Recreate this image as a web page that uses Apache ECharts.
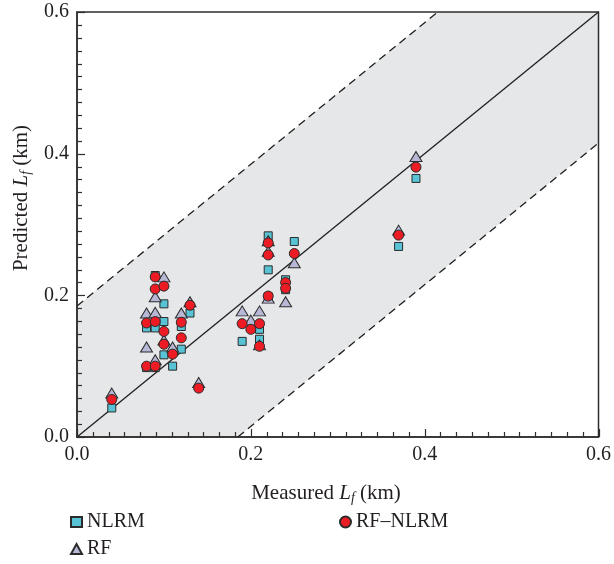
<!DOCTYPE html>
<html>
<head>
<meta charset="utf-8">
<script src="https://cdn.jsdelivr.net/npm/echarts@6/dist/echarts.min.js"></script>
<style>
  html, body { margin: 0; padding: 0; background: #fff; }
  #chart { width: 614px; height: 564px; }
</style>
</head>
<body>
<div id="chart"></div>
<script>
// measured vs predicted Lf (km)
const nlrm = [
  [0.04, 0.041], [0.08, 0.154], [0.08, 0.098], [0.09, 0.228], [0.09, 0.154], [0.09, 0.098],
  [0.10, 0.188], [0.10, 0.163], [0.10, 0.116], [0.11, 0.100], [0.12, 0.156], [0.12, 0.124],
  [0.13, 0.175], [0.19, 0.135], [0.21, 0.152], [0.21, 0.138], [0.22, 0.284], [0.22, 0.236],
  [0.22, 0.198], [0.24, 0.222], [0.24, 0.208], [0.25, 0.276], [0.37, 0.269], [0.39, 0.365]
];
const rf = [
  [0.04, 0.062], [0.08, 0.175], [0.08, 0.127], [0.09, 0.198], [0.09, 0.176], [0.09, 0.109],
  [0.10, 0.226], [0.10, 0.137], [0.11, 0.127], [0.12, 0.175], [0.13, 0.191], [0.14, 0.077],
  [0.19, 0.178], [0.20, 0.165], [0.21, 0.178], [0.21, 0.130], [0.22, 0.277], [0.22, 0.262],
  [0.22, 0.196], [0.24, 0.191], [0.25, 0.246], [0.37, 0.292], [0.39, 0.396]
];
const rfNlrm = [
  [0.04, 0.053], [0.08, 0.161], [0.08, 0.100], [0.09, 0.226], [0.09, 0.209], [0.09, 0.163],
  [0.09, 0.100], [0.10, 0.213], [0.10, 0.149], [0.10, 0.131], [0.11, 0.117], [0.12, 0.162],
  [0.12, 0.140], [0.13, 0.186], [0.14, 0.069], [0.19, 0.160], [0.20, 0.152], [0.21, 0.160],
  [0.21, 0.128], [0.22, 0.274], [0.22, 0.257], [0.22, 0.199], [0.24, 0.218], [0.24, 0.210],
  [0.25, 0.259], [0.37, 0.285], [0.39, 0.381]
];
const axisMin = 0;
const axisMax = 0.6;
const tickStep = 0.2;
const minorPerMajor = 11;
const bandOffset = 0.185;

const FONT = 'Liberation Serif';
const INK = '#231f20';
const AXIS_COLOR = '#2e2e2e';

const onePerOne = [[axisMin, axisMin], [axisMax, axisMax]];
const upperBound = [[axisMin, axisMin + bandOffset], [axisMax - bandOffset, axisMax]];
const lowerBound = [[axisMin + bandOffset, axisMin], [axisMax, axisMax - bandOffset]];
const bandPolygon = [
  [axisMin, axisMin], [axisMin, axisMin + bandOffset], [axisMax - bandOffset, axisMax],
  [axisMax, axisMax], [axisMax, axisMax - bandOffset], [axisMin + bandOffset, axisMin]
];

// tick positions along both axes: long at 0.2 steps, short in between
const tickValues = [];
const tickCount = Math.round((axisMax - axisMin) / tickStep) * minorPerMajor;
for (let i = 0; i <= tickCount; i++) {
  tickValues.push([axisMin + (i * tickStep) / minorPerMajor, i % minorPerMajor === 0 ? 1 : 0]);
}

const chart = echarts.init(document.getElementById('chart'));

const titleRich = {
  a: { fontFamily: FONT, fontSize: 21, fill: INK },
  i: { fontFamily: FONT, fontSize: 21, fontStyle: 'italic', fill: INK },
  s: { fontFamily: FONT, fontSize: 14, fontStyle: 'italic', fill: INK, verticalAlign: 'bottom', padding: [10, 0, 0, 0] }
};

function valueAxis() {
  return {
    type: 'value',
    min: axisMin,
    max: axisMax,
    interval: tickStep,
    z: 10,
    axisLine: { show: true, lineStyle: { color: AXIS_COLOR, width: 1.5 } },
    axisTick: { show: false },
    splitLine: { show: false },
    axisLabel: {
      fontFamily: FONT, fontSize: 20, color: INK, margin: 8,
      formatter: (v) => v.toFixed(1)
    }
  };
}

function scatterSeries(name, data, symbol, size, fill, z) {
  return {
    name: name,
    type: 'scatter',
    data: data,
    symbol: symbol,
    symbolSize: size,
    z: z,
    itemStyle: { color: fill, borderColor: '#2b2b2b', borderWidth: 1, opacity: 1 }
  };
}

function refLine(data, type) {
  return {
    type: 'line',
    data: data,
    symbol: 'none',
    silent: true,
    z: 3,
    lineStyle: { color: '#1f1f1f', width: 1.3, type: type }
  };
}

function tickLine(x1, y1, x2, y2) {
  return {
    type: 'line',
    shape: { x1: x1, y1: y1, x2: x2, y2: y2 },
    style: { stroke: AXIS_COLOR, lineWidth: 1.2 }
  };
}

chart.setOption({
  animation: false,
  backgroundColor: '#fff',
  grid: {
    left: 77, right: 9, top: 12, bottom: 127,
    show: true, z: 10, borderColor: AXIS_COLOR, borderWidth: 1.5, backgroundColor: 'transparent'
  },
  xAxis: valueAxis(),
  yAxis: valueAxis(),
  legend: [
    {
      data: ['NLRM', 'RF'],
      orient: 'vertical',
      left: 70, top: 512,
      padding: 0,
      itemWidth: 11, itemHeight: 10, itemGap: 7,
      textStyle: { fontFamily: FONT, fontSize: 20, color: INK }
    },
    {
      data: ['RF–NLRM'],
      orient: 'vertical',
      left: 339, top: 512,
      padding: 0,
      itemWidth: 11, itemHeight: 11,
      textStyle: { fontFamily: FONT, fontSize: 20, color: INK }
    }
  ],
  graphic: [
    {
      type: 'text',
      x: 326, y: 493,
      style: {
        text: '{a|Measured }{i|L}{s|f}{a| (km)}',
        rich: titleRich,
        align: 'center',
        verticalAlign: 'middle'
      }
    },
    {
      type: 'text',
      x: 21, y: 198,
      rotation: Math.PI / 2,
      style: {
        text: '{a|Predicted }{i|L}{s|f}{a| (km)}',
        rich: titleRich,
        align: 'center',
        verticalAlign: 'middle'
      }
    }
  ],
  series: [
    {
      type: 'custom',
      silent: true,
      z: 1,
      clip: true,
      data: [0],
      renderItem: (params, api) => ({
        type: 'polygon',
        shape: { points: bandPolygon.map((p) => api.coord(p)) },
        style: { fill: '#e6e7e8' }
      })
    },
    refLine(onePerOne, 'solid'),
    refLine(upperBound, [8, 5]),
    refLine(lowerBound, [8, 5]),
    scatterSeries('NLRM', nlrm, 'rect', 8, '#58c3d5', 4),
    scatterSeries('RF', rf, 'triangle', [12, 10], '#b7b8d6', 5),
    scatterSeries('RF–NLRM', rfNlrm, 'circle', 10, '#ed1c24', 6),
    {
      type: 'custom',
      silent: true,
      z: 20,
      clip: false,
      data: tickValues,
      renderItem: (params, api) => {
        const v = api.value(0);
        const len = api.value(1) ? 8 : 5;
        const onX = api.coord([v, axisMin]);
        const onY = api.coord([axisMin, v]);
        const tx = Math.round(onX[0]) + 0.5;
        const ty = Math.round(onY[1]) + 0.5;
        return {
          type: 'group',
          children: [
            tickLine(tx, onX[1], tx, onX[1] - len),
            tickLine(onY[0], ty, onY[0] + len, ty)
          ]
        };
      }
    }
  ]
});
</script>
</body>
</html>
